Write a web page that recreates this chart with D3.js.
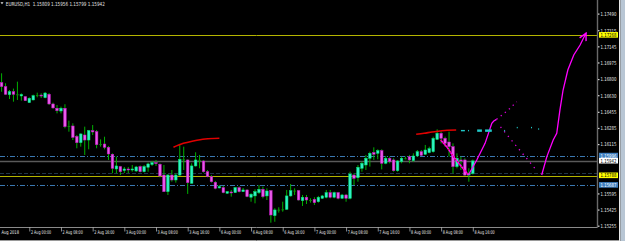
<!DOCTYPE html>
<html>
<head>
<meta charset="utf-8">
<script src="https://cdn.jsdelivr.net/npm/d3@7"></script>
<style>
html, body { margin: 0; padding: 0; background: #000; overflow: hidden; }
svg { display: block; }
</style>
</head>
<body>
<svg id="chart" width="625" height="241"></svg>
<script>
const width = 625, height = 241;
const plot = { left: 0, right: 597, top: 0, bottom: 227 };

// EURUSD H1, bars from 1 Aug 17:00 (index -7) to 8 Aug 16:00 (index 112)
const firstBar = -7;
const opens = [1.16767,1.16725,1.16640,1.16671,1.16644,1.16626,1.16619,
  1.16556,1.16584,1.16629,1.16636,1.16608,1.16644,1.16542,1.16497,1.16468,1.16497,1.16303,1.16310,1.16200,1.16134,1.16215,1.16162,
  1.16261,1.16250,1.16113,1.16120,1.16085,1.16012,1.15857,1.15882,1.15841,1.15857,1.15846,1.15836,1.15882,1.15828,1.15875,1.15903,
  1.15924,1.15907,1.15793,1.15618,1.15793,1.15741,1.15793,1.15959,1.15952,1.15706,1.15889,1.15952,1.15941,1.15828,1.15776,1.15717,
  1.15657,1.15660,1.15601,1.15615,1.15608,1.15660,1.15618,1.15636,1.15559,1.15573,1.15608,1.15643,1.15573,1.15629,1.15365,1.15425,
  1.15425,1.15432,1.15573,1.15629,1.15629,1.15523,1.15559,1.15530,1.15537,1.15512,1.15548,1.15559,1.15608,1.15559,1.15608,1.15548,
  1.15583,1.15548,1.15793,1.15765,1.15864,1.15899,1.15970,1.16030,1.16022,1.16050,1.15917,1.15970,1.15952,1.15839,1.15934,1.15970,
  1.15987,1.15945,1.15994,1.16039,1.16012,1.16029,1.16039,1.16169,1.16233,1.16180,1.16141,1.16092,1.15882,1.15952,1.15952,1.15793,
  1.15809];
const highs = [1.16865,1.16760,1.16689,1.16704,1.16777,1.16654,1.16626,
  1.16612,1.16640,1.16661,1.16654,1.16668,1.16657,1.16556,1.16531,1.16514,1.16539,1.16366,1.16338,1.16215,1.16233,1.16303,1.16268,
  1.16320,1.16268,1.16169,1.16197,1.16099,1.16022,1.15987,1.15889,1.15878,1.15878,1.15899,1.15889,1.15894,1.15899,1.15924,1.15941,
  1.15952,1.15917,1.15899,1.15804,1.15846,1.15811,1.16110,1.16092,1.15959,1.15917,1.16033,1.16005,1.15952,1.15846,1.15793,1.15730,
  1.15688,1.15678,1.15625,1.15636,1.15667,1.15673,1.15657,1.15643,1.15601,1.15643,1.15688,1.15671,1.15653,1.15636,1.15443,1.15453,
  1.15512,1.15636,1.15699,1.15653,1.15636,1.15583,1.15583,1.15548,1.15559,1.15573,1.15583,1.15636,1.15636,1.15618,1.15615,1.15594,
  1.15594,1.15828,1.15811,1.15899,1.15934,1.16005,1.16039,1.16085,1.16064,1.16064,1.15994,1.15987,1.15970,1.15952,1.15987,1.15987,
  1.16005,1.16022,1.16057,1.16057,1.16110,1.16092,1.16197,1.16275,1.16250,1.16197,1.16250,1.16127,1.16022,1.15987,1.15970,1.15864,
  1.15956];
const lows = [1.16671,1.16636,1.16594,1.16566,1.16584,1.16577,1.16573,
  1.16552,1.16581,1.16612,1.16605,1.16602,1.16531,1.16493,1.16443,1.16443,1.16286,1.16250,1.16162,1.16075,1.16092,1.16005,1.16064,
  1.16215,1.16075,1.16092,1.16064,1.15952,1.15811,1.15811,1.15793,1.15814,1.15814,1.15828,1.15825,1.15820,1.15820,1.15828,1.15889,
  1.15889,1.15769,1.15615,1.15583,1.15723,1.15713,1.15783,1.15846,1.15594,1.15704,1.15882,1.15864,1.15818,1.15769,1.15713,1.15643,
  1.15653,1.15601,1.15594,1.15566,1.15604,1.15610,1.15615,1.15559,1.15512,1.15495,1.15594,1.15548,1.15530,1.15291,1.15301,1.15397,
  1.15407,1.15425,1.15566,1.15583,1.15523,1.15467,1.15488,1.15502,1.15478,1.15502,1.15541,1.15548,1.15548,1.15548,1.15537,1.15541,
  1.15512,1.15537,1.15688,1.15723,1.15828,1.15846,1.15882,1.15952,1.15959,1.15853,1.15907,1.15917,1.15828,1.15828,1.15917,1.15959,
  1.15917,1.15934,1.15987,1.15994,1.16005,1.16022,1.16029,1.16162,1.16127,1.16092,1.15987,1.15811,1.15864,1.15846,1.15783,1.15723,
  1.15799];
const closes = [1.16725,1.16644,1.16671,1.16644,1.16636,1.16642,1.16577,
  1.16602,1.16629,1.16636,1.16626,1.16657,1.16542,1.16500,1.16471,1.16497,1.16303,1.16310,1.16190,1.16134,1.16226,1.16162,1.16261,
  1.16247,1.16113,1.16120,1.16085,1.16015,1.15864,1.15889,1.15828,1.15857,1.15846,1.15857,1.15878,1.15828,1.15882,1.15910,1.15924,
  1.15915,1.15783,1.15618,1.15793,1.15741,1.15793,1.15959,1.15952,1.15713,1.15889,1.15952,1.15945,1.15828,1.15776,1.15723,1.15653,
  1.15671,1.15608,1.15618,1.15604,1.15660,1.15618,1.15636,1.15566,1.15591,1.15618,1.15643,1.15566,1.15625,1.15372,1.15425,1.15428,
  1.15432,1.15573,1.15629,1.15625,1.15530,1.15559,1.15530,1.15527,1.15502,1.15559,1.15573,1.15608,1.15559,1.15608,1.15548,1.15583,
  1.15548,1.15804,1.15758,1.15875,1.15917,1.15970,1.16022,1.16012,1.16050,1.15917,1.15970,1.15934,1.15839,1.15941,1.15970,1.15966,
  1.15952,1.15994,1.16039,1.16001,1.16057,1.16071,1.16180,1.16233,1.16180,1.16127,1.16092,1.15882,1.15970,1.15941,1.15793,1.15809,
  1.15942];

// time axis
const timeLabelBars = [0, 8, 16, 24, 32, 40, 48, 56, 64, 72, 80, 88, 96, 104, 112];
const timeLabels = ["2 Aug 00:00","2 Aug 08:00","2 Aug 16:00","3 Aug 00:00","3 Aug 08:00","3 Aug 16:00",
  "6 Aug 00:00","6 Aug 08:00","6 Aug 16:00","7 Aug 00:00","7 Aug 08:00","7 Aug 16:00",
  "8 Aug 00:00","8 Aug 08:00","8 Aug 16:00"];
const firstLabel = "Aug 2018";

// price axis
const priceTicks = [1.17490,1.17315,1.17145,1.16975,1.16800,1.16630,1.16455,1.16285,1.16115,1.15595,1.15425,1.15255];

// horizontal levels
const levelPrices = [1.17268, 1.15996, 1.15942, 1.15818, 1.15788, 1.15687];
const levelKinds  = ["yellow", "blue", "bid", "dark", "yellow", "blue"];
const boxPrices = [1.17268, 1.15996, 1.15942, 1.15788, 1.15687];
const boxKinds  = ["yellow", "blue", "white", "yellow", "blue"];

// drawn objects (bar index, price)
const redA_bar = [36.4, 38.9, 41.4, 44.4, 48.0];
const redA_price = [1.16085, 1.16127, 1.16152, 1.16173, 1.16180];
const redB_bar = [97.7, 99.7, 101.7, 103.7, 105.5, 107.8];
const redB_price = [1.16223, 1.16233, 1.16247, 1.16257, 1.16265, 1.16268];
const zigDown_bar = [103.9, 105.4, 107.1, 108.8, 110.9];
const zigDown_price = [1.16162, 1.16092, 1.15987, 1.15899, 1.15793];
const zigUp_bar = [110.9, 113.0, 115.1, 116.8, 117.3, 118.0];
const zigUp_price = [1.15793, 1.15952, 1.16127, 1.16338, 1.16362, 1.16380];
const dotUp_bar = [118.0, 119.7, 121.4, 123.1];
const dotUp_price = [1.16380, 1.16436, 1.16496, 1.16566];
const dotDown_bar = [119.0, 127.7];
const dotDown_price = [1.16300, 1.15862];
const rise_bar = [129.4, 130.7, 132.3, 133.2, 134.0, 134.8, 136.0, 137.5, 139.1, 140.6];
const rise_price = [1.15793, 1.15987, 1.16162, 1.16233, 1.16478, 1.16689, 1.16900, 1.17058, 1.17163, 1.17289];
const cyanStart = [109.0, 110.8, 113.1, 115.1, 119.9, 123.1, 126.7, 128.5];
const cyanEnd   = [110.0, 111.0, 114.3, 116.8, 120.1, 123.3, 126.9, 128.7];
const cyanPrice = [1.16261, 1.16261, 1.16261, 1.16261, 1.16261, 1.16293, 1.16293, 1.16278];

const x = d3.scaleLinear().domain([0, 112]).range([29.3, 472.8]);
const y = d3.scaleLinear().domain([1.17490, 1.15255]).range([14, 226.1]);

const svg = d3.select("#chart");
svg.append("rect").attr("width", width).attr("height", height).attr("fill", "#000");

const defs = svg.append("defs");
defs.append("clipPath").attr("id", "plotclip")
  .append("rect").attr("x", plot.left).attr("y", plot.top)
  .attr("width", plot.right - plot.left).attr("height", plot.bottom - plot.top);
defs.append("marker").attr("id", "arrow")
  .attr("viewBox", "0 0 10 10").attr("refX", 9).attr("refY", 5)
  .attr("markerWidth", 9).attr("markerHeight", 9).attr("markerUnits", "userSpaceOnUse")
  .attr("orient", "auto")
  .append("path").attr("d", "M1,1 L9,5 L1,9").attr("fill", "none")
  .attr("stroke", "#ff00ff").attr("stroke-width", 1.6);

const g = svg.append("g").attr("clip-path", "url(#plotclip)");

// levels
const levelStyle = {
  yellow: { stroke: "#b4b400", width: 1, dash: null },
  blue:   { stroke: "#3b78b0", width: 1, dash: "5,2,1,2" },
  bid:    { stroke: "#5a5a5a", width: 1.6, dash: null },
  dark:   { stroke: "#203448", width: 1, dash: "4,2" }
};
g.append("g").selectAll("line")
  .data(levelPrices.map((p, k) => ({ p, kind: levelKinds[k] })))
  .join("line")
  .attr("x1", plot.left).attr("x2", plot.right)
  .attr("y1", d => Math.round(y(d.p)) + 0.5).attr("y2", d => Math.round(y(d.p)) + 0.5)
  .attr("stroke", d => levelStyle[d.kind].stroke)
  .attr("stroke-width", d => levelStyle[d.kind].width)
  .attr("stroke-dasharray", d => levelStyle[d.kind].dash);

// candles
const bars = opens.map((o, k) => ({ i: firstBar + k, o, h: highs[k], l: lows[k], c: closes[k] }));
const bodyW = 2.6;
const candle = g.append("g").selectAll("g").data(bars).join("g");
candle.append("line")
  .attr("x1", d => x(d.i)).attr("x2", d => x(d.i))
  .attr("y1", d => y(d.h)).attr("y2", d => y(d.l))
  .attr("stroke", "#00b000").attr("stroke-width", 1);
candle.append("rect")
  .attr("x", d => x(d.i) - bodyW / 2)
  .attr("width", bodyW)
  .attr("y", d => y(Math.max(d.o, d.c)))
  .attr("height", d => Math.max(1, Math.abs(y(d.o) - y(d.c))))
  .attr("fill", d => Math.abs(d.o - d.c) < 0.00008 ? "#0a8a0a" : (d.c > d.o ? "#2ff0c4" : "#e85ae8"))
  .attr("stroke", d => Math.abs(d.o - d.c) < 0.00008 ? "none" : (d.c > d.o ? "#00e070" : "#c010c0"))
  .attr("stroke-width", 0.5);

// drawn objects
const lineGen = d3.line().x(d => x(d[0])).y(d => y(d[1]));
const lineCurve = d3.line().x(d => x(d[0])).y(d => y(d[1])).curve(d3.curveMonotoneX);
const pts = (b, p) => b.map((v, k) => [v, p[k]]);

g.append("path").attr("d", lineCurve(pts(redA_bar, redA_price)))
  .attr("fill", "none").attr("stroke", "#e00000").attr("stroke-width", 1.6);
g.append("path").attr("d", lineCurve(pts(redB_bar, redB_price)))
  .attr("fill", "none").attr("stroke", "#e00000").attr("stroke-width", 1.6);

g.append("path").attr("d", lineGen(pts(zigDown_bar, zigDown_price)))
  .attr("fill", "none").attr("stroke", "#ff00ff").attr("stroke-width", 1.6);
g.append("path").attr("d", lineGen(pts(zigDown_bar, zigDown_price)))
  .attr("fill", "none").attr("stroke", "#e00030").attr("stroke-width", 1.2).attr("stroke-dasharray", "1,2");
g.append("path").attr("d", lineGen(pts(zigUp_bar, zigUp_price)))
  .attr("fill", "none").attr("stroke", "#ff00ff").attr("stroke-width", 1.3);
g.append("path").attr("d", lineGen(pts(dotUp_bar, dotUp_price)))
  .attr("fill", "none").attr("stroke", "#e000e0").attr("stroke-width", 1.3).attr("stroke-dasharray", "1.3,4");
g.append("path").attr("d", lineGen(pts(dotDown_bar, dotDown_price)))
  .attr("fill", "none").attr("stroke", "#e000e0").attr("stroke-width", 1.3).attr("stroke-dasharray", "1.3,4.5");

g.selectAll(".cy").data(cyanStart.map((s, k) => ({ s, e: cyanEnd[k], p: cyanPrice[k], thick: cyanEnd[k] - s > 1 })))
  .join("rect").attr("class", "cy")
  .attr("x", d => x(d.s)).attr("width", d => Math.max(1, x(d.e) - x(d.s)))
  .attr("y", d => y(d.p) - (d.thick ? 1.2 : 0.7)).attr("height", d => d.thick ? 2.4 : 1.4)
  .attr("fill", "#20c8c8");

svg.append("path").attr("d", lineGen(pts(rise_bar, rise_price)))
  .attr("fill", "none").attr("stroke", "#ff00ff").attr("stroke-width", 1.3)
  .attr("marker-end", "url(#arrow)");

// frame lines
svg.append("line").attr("x1", 0).attr("x2", plot.right + 0.5)
  .attr("y1", plot.bottom + 0.5).attr("y2", plot.bottom + 0.5)
  .attr("stroke", "#8a8a8a").attr("stroke-width", 1);
svg.append("line").attr("x1", plot.right + 0.5).attr("x2", plot.right + 0.5)
  .attr("y1", 0).attr("y2", plot.bottom + 0.5)
  .attr("stroke", "#6a6a6a").attr("stroke-width", 1.4);

const font = "Tahoma, 'DejaVu Sans', sans-serif";

// price axis
const pa = svg.append("g");
pa.selectAll("rect.tk").data(priceTicks).join("rect").attr("class", "tk")
  .attr("x", plot.right + 1).attr("y", d => y(d) - 0.5).attr("width", 1.5).attr("height", 1.2)
  .attr("fill", "#d0d0d0");
pa.selectAll("text.pl").data(priceTicks).join("text").attr("class", "pl")
  .attr("x", 600.5).attr("y", d => y(d) + 1.9)
  .attr("font-family", font).attr("font-size", 5.4).attr("fill", "#e8e8e8")
  .attr("textLength", 16).attr("lengthAdjust", "spacingAndGlyphs")
  .text(d => d.toFixed(5));

const boxFill = { yellow: "#ffff00", blue: "#3f7fc0", white: "#ffffff" };
const boxText = { yellow: "#000", blue: "#ffffff", white: "#000" };
const boxes = pa.selectAll("g.bx").data(boxPrices.map((p, k) => ({ p, kind: boxKinds[k] })))
  .join("g").attr("class", "bx");
boxes.append("rect").attr("x", 599).attr("y", d => y(d.p) - 3).attr("width", 19).attr("height", 5.6)
  .attr("fill", d => boxFill[d.kind]);
boxes.append("text").attr("x", 600.5).attr("y", d => y(d.p) + 1.9)
  .attr("font-family", font).attr("font-size", 5.4).attr("fill", d => boxText[d.kind])
  .attr("textLength", 16).attr("lengthAdjust", "spacingAndGlyphs")
  .text(d => d.p.toFixed(5));

// time axis
const ta = svg.append("g");
ta.selectAll("line").data(timeLabelBars).join("line")
  .attr("x1", d => x(d) + 0.5).attr("x2", d => x(d) + 0.5)
  .attr("y1", plot.bottom).attr("y2", plot.bottom + 4.5)
  .attr("stroke", "#b0b0b0").attr("stroke-width", 0.8);
ta.selectAll("text").data(timeLabelBars).join("text")
  .attr("x", d => x(d) + 1.6).attr("y", 233.6)
  .attr("font-family", font).attr("font-size", 5.2).attr("fill", "#e8e8e8")
  .attr("textLength", 20.2).attr("lengthAdjust", "spacingAndGlyphs")
  .text((d, k) => timeLabels[k]);
ta.append("text").attr("x", 1.5).attr("y", 233.6)
  .attr("font-family", font).attr("font-size", 5.2).attr("fill", "#e8e8e8")
  .attr("textLength", 17.5).attr("lengthAdjust", "spacingAndGlyphs")
  .text(firstLabel);

// title
const last = bars[bars.length - 1];
svg.append("path").attr("d", "M0.5,2.2 L3.5,2.2 L2,4.2 Z").attr("fill", "#e0e0e0");
svg.append("text").attr("x", 5.8).attr("y", 5.9)
  .attr("font-family", font).attr("font-size", 5.6).attr("fill", "#e0e0e0")
  .attr("textLength", 99).attr("lengthAdjust", "spacingAndGlyphs")
  .attr("xml:space", "preserve")
  .text(`EURUSD,H1  ${last.o.toFixed(5)} ${last.h.toFixed(5)} ${last.l.toFixed(5)} ${last.c.toFixed(5)}`);

// window edges
svg.append("rect").attr("x", 619).attr("y", 0).attr("width", 1.5).attr("height", height).attr("fill", "#e8e8e8");
svg.append("rect").attr("x", 620.5).attr("y", 0).attr("width", 4.5).attr("height", height).attr("fill", "#b8c6d4");
svg.append("line").attr("x1", 0).attr("x2", 619).attr("y1", 240.5).attr("y2", 240.5)
  .attr("stroke", "#9a9a9a").attr("stroke-width", 1);
</script>
</body>
</html>
